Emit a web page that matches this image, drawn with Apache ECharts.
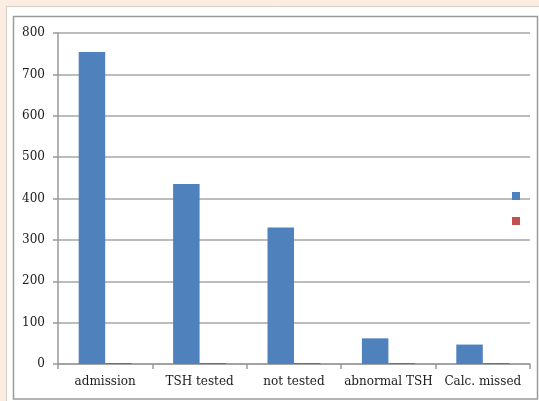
<!DOCTYPE html>
<html>
<head>
<meta charset="utf-8">
<script src="https://cdn.jsdelivr.net/npm/echarts@6/dist/echarts.min.js"></script>
<style>
  html, body { margin: 0; padding: 0; background: #fbede3; }
  #chart { width: 539px; height: 401px; }
</style>
</head>
<body>
<div id="chart"></div>
<script>
// Chart data
const categories = ['admission', 'TSH tested', 'not tested', 'abnormal TSH', 'Calc. missed'];
const series1Values = [754, 435, 330, 62, 47];
const series2Values = [0, 0, 0, 0, 0];
const yTicks = { min: 0, max: 800, interval: 100 };

const chart = echarts.init(document.getElementById('chart'), null, { renderer: 'canvas' });

const labelFont = { fontFamily: 'DejaVu Serif', fontSize: 12, color: '#1a1a1a' };
const axisGray = '#9a9a9a';

chart.setOption({
  backgroundColor: '#fbede3',
  animation: false,
  graphic: [
    // outer white panel
    { type: 'rect', shape: { x: 6.5, y: 6.5, width: 540, height: 400 },
      style: { fill: '#ffffff', stroke: '#d6cdc5', lineWidth: 1 }, z: -10 },
    // inner chart frame
    { type: 'rect', shape: { x: 13.5, y: 16.5, width: 524, height: 382.5 },
      style: { fill: '#ffffff', stroke: axisGray, lineWidth: 1.5 }, z: -9 }
  ],
  grid: { left: 58, top: 33, right: 9, bottom: 37, containLabel: false },
  legend: {
    orient: 'vertical',
    left: 512, top: 192,
    padding: 0,
    itemWidth: 8, itemHeight: 8, itemGap: 17,
    icon: 'rect',
    formatter: () => '',
    textStyle: { fontSize: 1 },
    selectedMode: false,
    data: ['Series1', 'Series2']
  },
  xAxis: {
    type: 'category',
    data: categories,
    boundaryGap: true,
    axisLine: { lineStyle: { color: axisGray, width: 1.5 } },
    axisTick: { show: true, length: 5, lineStyle: { color: axisGray, width: 1.5 } },
    axisLabel: Object.assign({ margin: 12, interval: 0 }, labelFont)
  },
  yAxis: {
    type: 'value',
    min: yTicks.min, max: yTicks.max, interval: yTicks.interval,
    axisLine: { show: true, lineStyle: { color: axisGray, width: 1.5 } },
    axisTick: { show: true, length: 5, lineStyle: { color: axisGray, width: 1.5 } },
    axisLabel: Object.assign({ margin: 13 }, labelFont),
    splitLine: { show: true, lineStyle: { color: '#a6a6a6', width: 1.5 } }
  },
  series: [
    { name: 'Series1', type: 'bar', data: series1Values, barWidth: 26.5, barGap: '0%',
      itemStyle: { color: '#4f81bd' } },
    { name: 'Series2', type: 'bar', data: series2Values, barWidth: 26.5, barMinHeight: 1,
      itemStyle: { color: '#c0504d' } }
  ]
});
</script>
</body>
</html>
